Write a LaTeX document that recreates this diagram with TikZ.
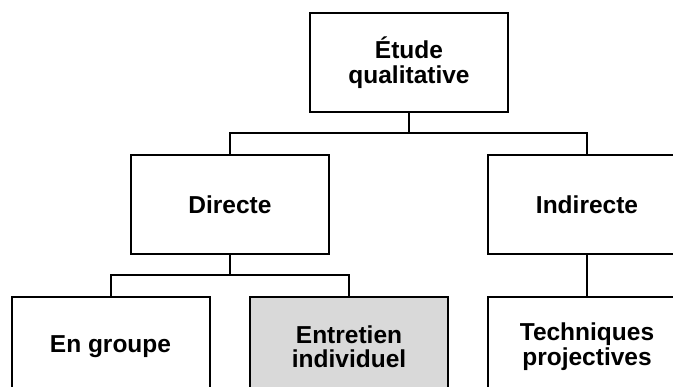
\documentclass[tikz,border=0pt]{standalone}
\usepackage{fontspec}
\setmainfont{Liberation Sans}
\usepackage{xcolor}
\usepackage{tikz}
\usetikzlibrary{positioning}

\begin{document}
\begin{tikzpicture}[
  box/.style={rectangle, draw=black, line width=2pt, fill=white, minimum width=198pt, minimum height=99pt, align=center, font=\fontsize{24.5}{24.5}\selectfont\bfseries},
  chosen/.style={box, fill=gray!30},
  link/.style={line width=2pt}
]
  \clip (0,0) rectangle (673pt,387pt);
  \node[box] (etude) at (409pt,324.5pt) {Étude\\qualitative};
  \node[box, below=41pt of etude, xshift=-179pt] (directe) {Directe};
  \node[box, below=41pt of etude, xshift=178pt] (indirecte) {Indirecte};
  \node[box, below=41pt of directe, xshift=-119.5pt] (groupe) {En groupe};
  \node[chosen, below=41pt of directe, xshift=119pt] (entretien) {Entretien\\individuel};
  \node[box, below=41pt of indirecte] (projectives) {Techniques\\projectives};
  % branches
  \coordinate[below=20.5pt of etude.south] (fork1);
  \coordinate[below=20pt of directe.south] (fork2);
  \draw[link] (etude.south) -- (fork1) -| (directe.north);
  \draw[link] (fork1) -| (indirecte.north);
  \draw[link] (directe.south) -- (fork2) -| (groupe.north);
  \draw[link] (fork2) -| (entretien.north);
  \draw[link] (indirecte) -- (projectives);
\end{tikzpicture}
\end{document}
